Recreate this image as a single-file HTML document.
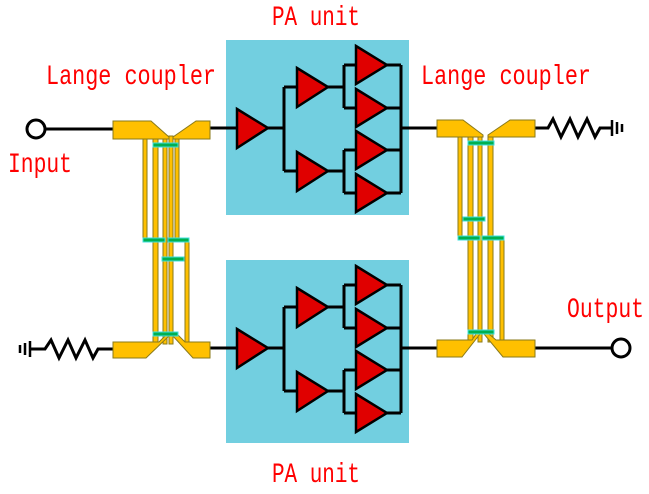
<!DOCTYPE html>
<html><head><meta charset="utf-8"><style>
html,body{margin:0;padding:0;background:#fff;}
svg{display:block;}
text{font-family:"Liberation Mono","DejaVu Sans Mono",monospace;fill:#ff0000;font-size:21px;}
</style></head><body>
<svg width="649" height="494" viewBox="0 0 649 494" xmlns="http://www.w3.org/2000/svg">
<defs>
<g id="amps">
  <g stroke="#000" stroke-width="3" fill="none">
    <path d="M210 128 H237 M268 128 H284 M284 87 V171 M284 87 H297 M284 171 H297"/>
    <path d="M328 87 H344 M344 65 V108 M344 65 H356 M344 108 H356"/>
    <path d="M328 171 H344 M344 150 V193 M344 150 H356 M344 193 H356"/>
    <path d="M387 65 H401 M387 108 H401 M387 150 H401 M387 193 H401 M401 65 V193 M401 128 H437"/>
  </g>
  <g fill="#e00000" stroke="#000" stroke-width="2.5" stroke-linejoin="miter">
    <polygon points="237,109 268,128 237,148"/>
    <polygon points="297,68 328,87 297,107"/>
    <polygon points="297,152 328,171 297,191"/>
    <polygon points="356,46 387,65 356,84"/>
    <polygon points="356,89 387,108 356,127"/>
    <polygon points="356,131 387,150 356,169"/>
    <polygon points="356,174 387,193 356,212"/>
  </g>
</g>
</defs>
<rect x="226" y="40" width="183" height="175" fill="#72cfe0"/>
<rect x="226" y="260" width="183" height="183" fill="#72cfe0"/>
<use href="#amps"/>
<use href="#amps" transform="translate(0,220)"/>

<g stroke="#000" stroke-width="3" fill="none">
  <circle cx="36" cy="129" r="9" fill="#fff"/>
  <path d="M45 129 H113"/>
  <path d="M113 349 H98 L93 358 L85 340 L76 358 L68 340 L59 358 L51 340 L45 349 H30"/>
  <path d="M30 341 V357 M25 343 V355 M20 345 V353" stroke-width="2.5"/>
  <path d="M535 128 H548 L553 119 L561 137 L570 119 L578 137 L587 119 L595 137 L600 128 H612"/>
  <path d="M612 120 V136 M617 122 V134 M622 124 V132" stroke-width="2.5"/>
  <path d="M535 348 H612"/>
  <circle cx="621" cy="348" r="9" fill="#fff"/>
</g>

<g fill="#ffc000" stroke="#8a7a1a" stroke-width="1">
  <rect x="143" y="136" width="4" height="105"/>
  <rect x="153" y="136" width="5" height="208"/>
  <rect x="163" y="136" width="4" height="208"/>
  <rect x="169" y="136" width="4" height="208"/>
  <rect x="175" y="136" width="4" height="105"/>
  <rect x="185" y="240" width="4" height="104"/>
  <polygon points="113,121 151,121 169,137 169,139 113,139"/>
  <polygon points="173,139 173,137 196,121 210,121 210,139"/>
  <polygon points="113,342 159,342 166,335 170,335 146,358 113,358"/>
  <polygon points="172,335 178,335 185,342 210,342 210,358 193,358"/>
</g>
<g fill="#00b050" stroke="#40e0e0" stroke-width="1">
  <rect x="153" y="143" width="25" height="4"/>
  <rect x="143" y="238" width="22" height="4"/>
  <rect x="168" y="238" width="21" height="4"/>
  <rect x="162" y="257" width="22" height="4"/>
  <rect x="153" y="332" width="25" height="4"/>
</g>

<g fill="#ffc000" stroke="#8a7a1a" stroke-width="1">
  <rect x="458" y="136" width="4" height="103"/>
  <rect x="468" y="136" width="5" height="206"/>
  <rect x="478" y="136" width="4" height="206"/>
  <rect x="488" y="136" width="5" height="206"/>
  <rect x="500" y="237" width="4" height="105"/>
  <polygon points="437,120 463,120 483,135 483,137 437,137"/>
  <polygon points="488,137 488,135 510,120 535,120 535,137"/>
  <polygon points="437,340 472,340 476,334 480,334 462,357 437,357"/>
  <polygon points="484,334 489,334 496,340 535,340 535,357 503,357"/>
</g>
<g fill="#00b050" stroke="#40e0e0" stroke-width="1">
  <rect x="468" y="141" width="26" height="4"/>
  <rect x="463" y="217" width="22" height="4"/>
  <rect x="458" y="236" width="22" height="4"/>
  <rect x="482" y="236" width="22" height="4"/>
  <rect x="468" y="330" width="26" height="4"/>
</g>

<g transform="translate(0,25) scale(1,1.3)"><text x="272" y="0" textLength="88" lengthAdjust="spacingAndGlyphs">PA unit</text></g>
<g transform="translate(0,482) scale(1,1.3)"><text x="272" y="0" textLength="88" lengthAdjust="spacingAndGlyphs">PA unit</text></g>
<g transform="translate(0,84) scale(1,1.3)"><text x="46" y="0" textLength="170" lengthAdjust="spacingAndGlyphs">Lange coupler</text></g>
<g transform="translate(0,84) scale(1,1.3)"><text x="421" y="0" textLength="170" lengthAdjust="spacingAndGlyphs">Lange coupler</text></g>
<g transform="translate(0,172) scale(1,1.3)"><text x="8" y="0" textLength="64" lengthAdjust="spacingAndGlyphs">Input</text></g>
<g transform="translate(0,317) scale(1,1.3)"><text x="567" y="0" textLength="77" lengthAdjust="spacingAndGlyphs">Output</text></g>
</svg>
</body></html>
